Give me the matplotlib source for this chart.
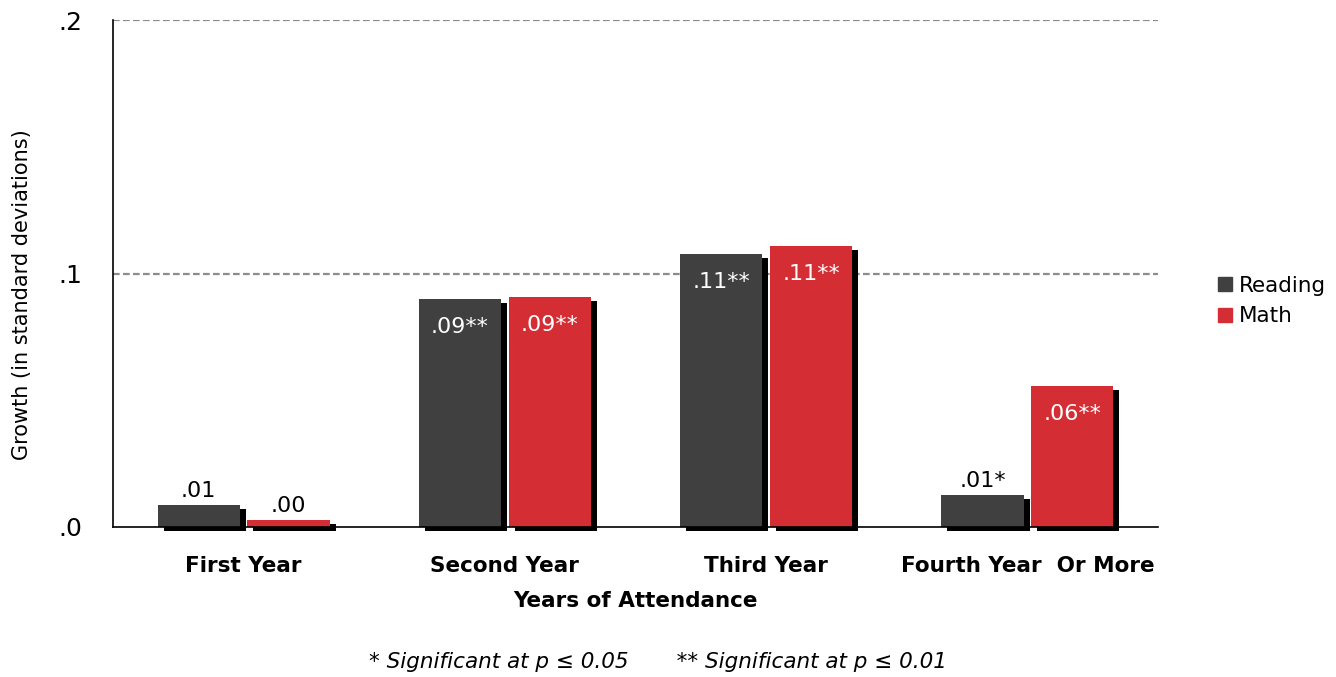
import numpy as np
import matplotlib
matplotlib.use("Agg")
import matplotlib.pyplot as plt
import matplotlib.patheffects as pe
from matplotlib.patches import Patch

categories = ["First Year", "Second Year", "Third Year", "Fourth Year  Or More"]
reading = [0.0087, 0.090, 0.1077, 0.0126]
math = [0.0028, 0.0907, 0.1108, 0.0556]
reading_labels = [".01", ".09**", ".11**", ".01*"]
math_labels = [".00", ".09**", ".11**", ".06**"]
yticks = [0.0, 0.1, 0.2]
ytick_labels = [".0", ".1", ".2"]

READ_COLOR = "#404040"
MATH_COLOR = "#D42E34"

fig = plt.figure(figsize=(13.36, 6.77), dpi=100)
ax = fig.add_axes([113 / 1336, 1 - 527 / 677, (1158 - 113) / 1336, (527 - 20) / 677])

x = np.arange(len(categories)) + 0.5
w = 0.315
off = 0.172
shadow = [pe.SimplePatchShadow(offset=(4.3, -3.0), shadow_rgbFace="black", alpha=1.0), pe.Normal()]

bars_r = ax.bar(x - off, reading, w, color=READ_COLOR, zorder=3)
bars_m = ax.bar(x + off, math, w, color=MATH_COLOR, zorder=3)
for b in list(bars_r) + list(bars_m):
    b.set_path_effects(shadow)
    b.set_clip_on(False)


def put_labels(bars, labels):
    for b, lab in zip(bars, labels):
        h = b.get_height()
        cx = b.get_x() + b.get_width() / 2
        if h > 0.03:
            ax.annotate(lab, (cx, h), xytext=(0, -20), textcoords="offset points",
                        ha="center", va="center", color="white", fontsize=16, zorder=5)
        else:
            ax.annotate(lab, (cx, h), xytext=(0, 3), textcoords="offset points",
                        ha="center", va="bottom", color="black", fontsize=16, zorder=5)


put_labels(bars_r, reading_labels)
put_labels(bars_m, math_labels)

ax.set_xlim(0, 4)
ax.set_ylim(0, 0.2)
ax.set_yticks(yticks)
ax.set_yticklabels(ytick_labels, fontsize=18)
ax.set_xticks(x)
ax.set_xticklabels(categories, fontsize=15.5, fontweight="bold")
ax.tick_params(axis="both", length=0)
ax.tick_params(axis="y", pad=22)
ax.tick_params(axis="x", pad=21)
ax.set_xlabel("Years of Attendance", fontsize=15.5, fontweight="bold", labelpad=11)

for yv in [0.1, 0.2]:
    ax.axhline(yv, color="#8c8c8c", linestyle=(0, (3, 1.5)), linewidth=1.6, zorder=1)

for s in ["top", "right"]:
    ax.spines[s].set_visible(False)
ax.spines["left"].set_linewidth(1.2)
ax.spines["bottom"].set_linewidth(1.2)
ax.spines["bottom"].set_zorder(4)

fig.text(22 / 1336, 1 - 295 / 677, "Growth (in standard deviations)", rotation=90,
         ha="center", va="center", fontsize=15)

handles = [Patch(color=READ_COLOR, label="Reading"), Patch(color=MATH_COLOR, label="Math")]
fig.legend(handles=handles, loc="center left", bbox_to_anchor=(1218 / 1336, 1 - 301 / 677),
           frameon=False, fontsize=15.5, handlelength=0.65, handleheight=0.65,
           handletextpad=0.3, labelspacing=0.5, borderaxespad=0, borderpad=0)

fig.text(658 / 1336, 1 - 662 / 677,
         "* Significant at p \u2264 0.05       ** Significant at p \u2264 0.01",
         ha="center", va="center", fontsize=15.5, style="italic")

fig.savefig("out.png", dpi=100)
